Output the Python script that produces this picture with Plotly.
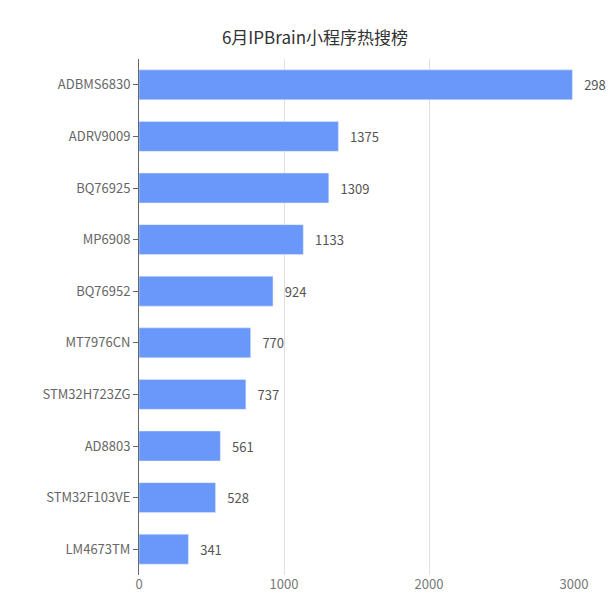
import plotly.graph_objects as go

categories = ["ADBMS6830","ADRV9009","BQ76925","MP6908","BQ76952","MT7976CN","STM32H723ZG","AD8803","STM32F103VE","LM4673TM"]
values = [2989,1375,1309,1133,924,770,737,561,528,341]
x_ticks = [0,1000,2000,3000]

fig = go.Figure(go.Bar(
    x=values, y=categories, orientation="h",
    marker=dict(color="#6A98FA"),
    text=["   " + str(v) for v in values], textposition="outside",
    textfont=dict(color="#555", size=13), cliponaxis=False, width=0.58,
))
fig.update_layout(
    width=614, height=612,
    margin=dict(l=131, r=48, t=51, b=45, pad=0),
    plot_bgcolor="white", paper_bgcolor="white",
    font=dict(family="Noto Sans CJK SC", color="#666", size=13),
    title=dict(text="6月IPBrain小程序热搜榜", x=0.5, xanchor="center", y=1-30/612, yanchor="middle",
               font=dict(size=17, color="#333")),
    showlegend=False,
)
fig.update_xaxes(range=[0,3000], tickvals=x_ticks, showgrid=True, gridcolor="#E0E0E0",
                 zeroline=False, showline=False, ticks="", tickfont=dict(color="#777"), automargin=False)
fig.update_yaxes(autorange="reversed", showline=True, linecolor="#666", ticks="outside",
                 ticklen=5, tickcolor="#666", tickfont=dict(color="#666"), automargin=False)
fig.write_html("out.html")
